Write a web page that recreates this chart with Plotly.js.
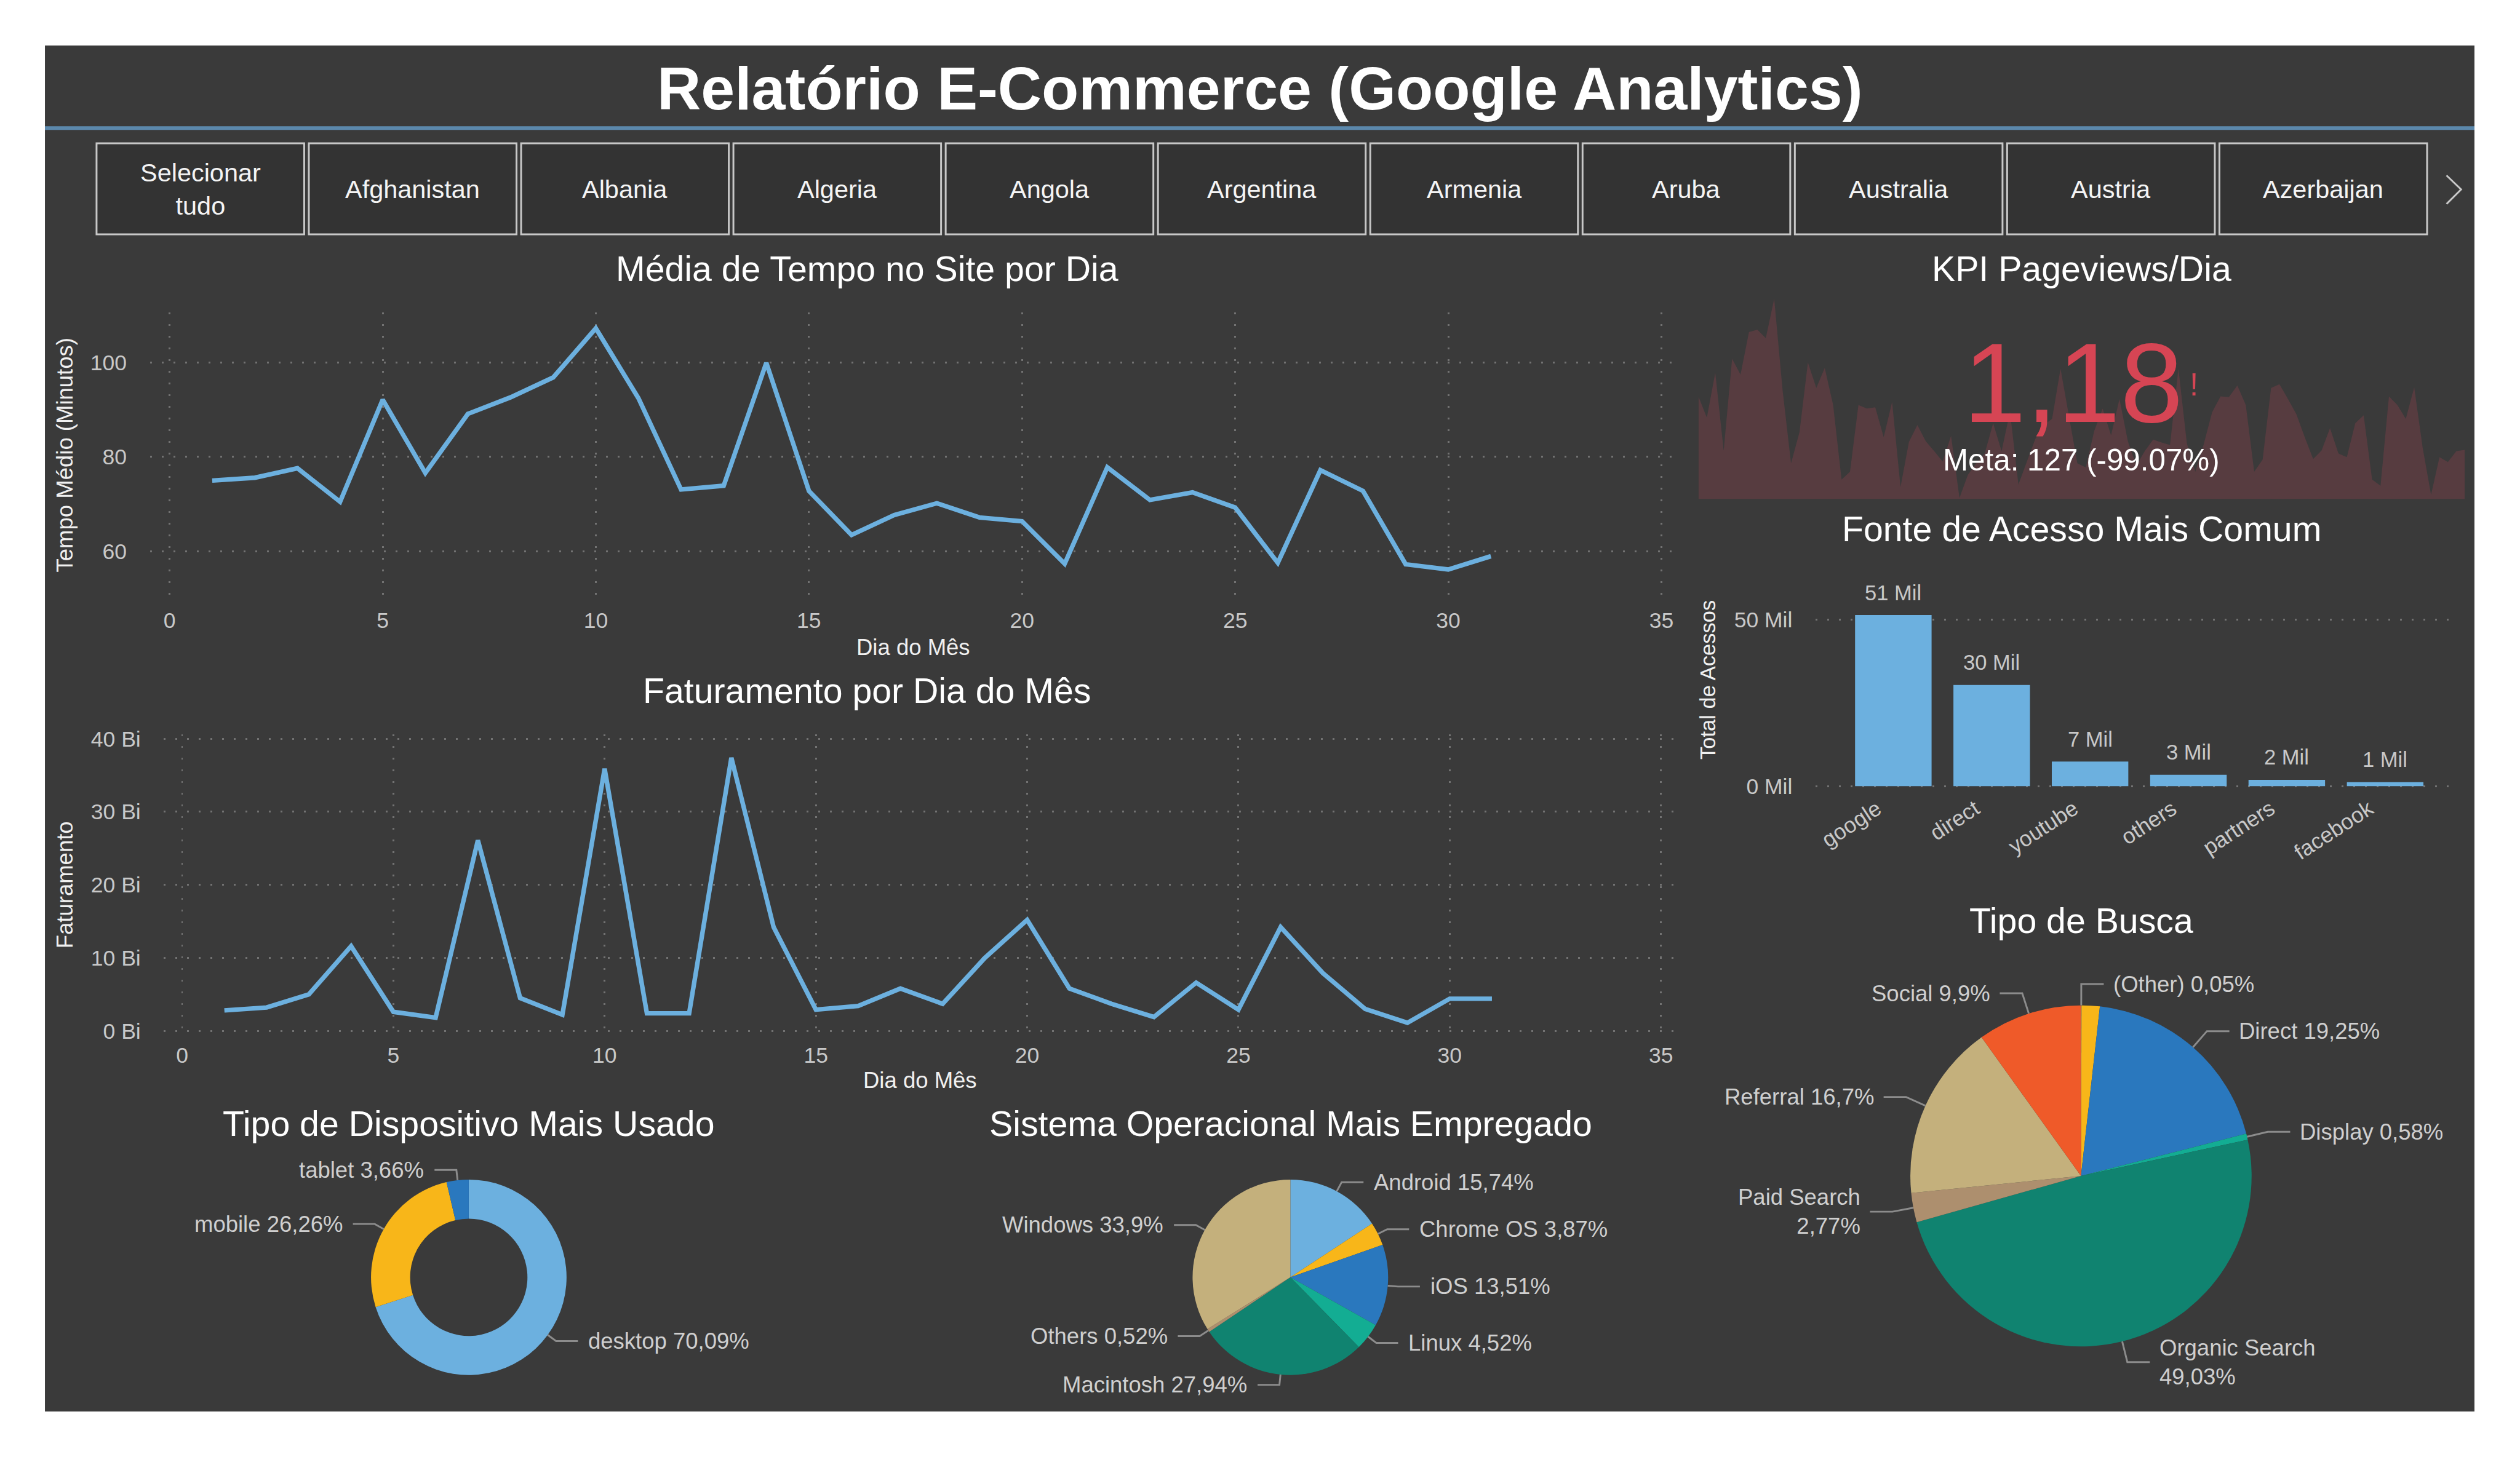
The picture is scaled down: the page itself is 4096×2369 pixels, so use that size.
<!DOCTYPE html>
<html><head><meta charset="utf-8">
<script src="https://cdn.plot.ly/plotly-3.0.1.min.js"></script>
<style>html,body{margin:0;padding:0;background:#fff;overflow:hidden}#chart{width:4096px;height:2369px}</style>
</head><body><div id="chart"></div>
<script>
// ---------------- DATA ----------------
const countries = ["Selecionar tudo","Afghanistan","Albania","Algeria","Angola","Argentina","Armenia","Aruba","Australia","Austria","Azerbaijan"];
const days = [1,2,3,4,5,6,7,8,9,10,11,12,13,14,15,16,17,18,19,20,21,22,23,24,25,26,27,28,29,30,31];
const avgTimeMinutes = [75.0,75.6,77.6,70.5,92.1,76.6,89.1,92.6,96.8,107.2,92.4,73.1,73.9,99.9,72.8,63.5,67.7,70.2,67.2,66.4,57.4,77.8,70.9,72.5,69.3,57.6,77.2,72.8,57.3,56.2,59.0];
const revenueBi = [2.8,3.2,5.0,11.6,2.6,1.8,26.1,4.5,2.2,35.9,2.4,2.4,37.4,14.2,2.9,3.4,5.8,3.7,10.0,15.2,5.8,3.7,1.9,6.6,2.9,14.2,7.9,3.0,1.1,4.4,4.4];
const pageviewsTrend = [169,134,208,80,231,205,275,279,265,330,179,59,110,225,183,216,155,32,45,155,149,151,102,160,20,94,122,95,79,62,104,2,40,59,75,125,79,144,24,62,99,122,132,215,135,59,52,112,149,105,165,95,55,79,98,93,89,215,92,45,90,143,169,168,187,155,45,65,183,189,165,140,102,66,80,117,75,69,125,138,32,22,169,155,132,184,85,7,69,61,79,81];
const kpiValue = 1.18;
const kpiGoal = 127;
const sourceNames = ["google","direct","youtube","others","partners","facebook"];
const sourceAccessMil = [51.4,30.4,7.4,3.4,1.9,1.2];
const sourceTickVals = [0,50];
const deviceNames = ["desktop","mobile","tablet"];
const deviceShares = [70.09,26.26,3.66];
const osNames = ["Android","Chrome OS","iOS","Linux","Macintosh","Others","Windows"];
const osShares = [15.74,3.87,13.51,4.52,27.94,0.52,33.9];
const searchNames = ["(Other)","Affiliates","Direct","Display","Organic Search","Paid Search","Referral","Social"];
const searchShares = [0.05,1.72,19.25,0.58,49.03,2.77,16.7,9.9];
const searchHidden = ["Affiliates"];

// ---------------- STYLE / GEOMETRY ----------------
const W = 4150, H = 2400, S = 4096/4150;
const px = X => X / W, py = Y => 1 - Y / H;
const FONT = 'Liberation Sans, Arial, sans-serif';
const BLUE = '#6cb0df';
const TICK = '#c8c8c8', WHITE = '#ffffff', LBL = '#cfcfcf';
const CLEAR = 'rgba(0,0,0,0)';
const palDevice = ['#6cb0df','#f8b619','#2a78be'];
const palOS = ['#6cb0df','#f8b619','#2a78be','#13ad93','#108370','#ad8f6e','#c4b07c'];
const palSearch = ['#6cb0df','#f8b619','#2a78be','#13ad93','#108370','#ad8f6e','#c4b07c','#ef5a29'];

const G = {
  c1: {x0:247, x1:2762, y0:515, y1:984},
  c2: {x0:270, x1:2761, y0:1210, y1:1705},
  bar: {x0:2990, x1:4047, y0:960, y1:1298},
  spark: {x0:2797, x1:4059, y0:470, y1:822},
  device: {cx:772, cy:2104, r:161},
  os: {cx:2125, cy:2104, r:161},
  search: {cx:3427, cy:1937, r:281}
};
const dom = g => ({x:[px(g.x0), px(g.x1)], y:[py(g.y1), py(g.y0)]});

const annotations = [], shapes = [];
function txt(x, y, text, size, color, extra) {
  annotations.push(Object.assign({xref:'paper', yref:'paper', x:px(x), y:py(y), text:text, showarrow:false,
    xanchor:'center', yanchor:'middle', font:{family:FONT, size:size*S, color:color}}, extra || {}));
}

// panel, header line, buttons
shapes.push({type:'rect', xref:'paper', yref:'paper', x0:px(74), x1:px(4075), y0:py(2325), y1:py(75), fillcolor:'#3a3a3a', line:{width:0}, layer:'below'});
shapes.push({type:'rect', xref:'paper', yref:'paper', x0:px(74), x1:px(4075), y0:py(214), y1:py(208), fillcolor:'#5b88ac', line:{width:0}, layer:'below'});
countries.forEach((c, i) => {
  const x0 = 159 + i * 349.6;
  shapes.push({type:'rect', xref:'paper', yref:'paper', x0:px(x0), x1:px(x0 + 342), y0:py(386), y1:py(236), fillcolor:'#333333', line:{color:'#c8c8c8', width:3*S}, layer:'below'});
  txt(x0 + 171, 312, c.indexOf(' ') > 0 ? c.replace(' ', '<br>') : c, 42, '#f4f4f4');
});
shapes.push({type:'path', xref:'paper', yref:'paper', path:`M${px(4029)},${py(289)}L${px(4053)},${py(312)}L${px(4029)},${py(336)}`, line:{color:'#c8c8c8', width:3*S}});

// titles
txt(2075, 146, '<b>Relatório E-Commerce (Google Analytics)</b>', 100, WHITE);
txt(1428, 443, 'Média de Tempo no Site por Dia', 58, WHITE);
txt(1428, 1138, 'Faturamento por Dia do Mês', 58, WHITE);
txt(3428, 443, 'KPI Pageviews/Dia', 58, WHITE);
txt(3428, 871, 'Fonte de Acesso Mais Comum', 58, WHITE);
txt(3428, 1517, 'Tipo de Busca', 58, WHITE);
txt(772, 1851, 'Tipo de Dispositivo Mais Usado', 58, WHITE);
txt(2126, 1851, 'Sistema Operacional Mais Empregado', 58, WHITE);

// axis titles
txt(107, (G.c1.y0 + G.c1.y1) / 2, 'Tempo Médio (Minutos)', 37, '#f0f0f0', {textangle:-90});
txt(107, (G.c2.y0 + G.c2.y1) / 2, 'Faturamento', 37, '#f0f0f0', {textangle:-90});
txt(2812, 1120, 'Total de Acessos', 35, '#f0f0f0', {textangle:-90});
txt((G.c1.x0 + G.c1.x1) / 2, 1066, 'Dia do Mês', 37, '#f0f0f0');
txt((G.c2.x0 + G.c2.x1) / 2, 1779, 'Dia do Mês', 37, '#f0f0f0');

// KPI
const fmtBR = v => Number(v.toFixed(2)).toString().replace('.', ',');
txt(3414, 631, fmtBR(kpiValue), 186, '#d64554');
txt(3604, 634, '!', 52, '#d64554', {xanchor:'left'});
txt(3428, 757, `Meta: ${kpiGoal} (${((kpiValue - kpiGoal) / kpiGoal * 100).toFixed(2)}%)`, 50, WHITE);

// bar value labels and angled category labels (placed on the category axis)
sourceNames.forEach((n, i) => {
  annotations.push({xref:'x3', yref:'y3', x:n, y:sourceAccessMil[i], text:Math.round(sourceAccessMil[i]) + ' Mil',
    showarrow:false, yshift:37*S, yanchor:'middle', font:{family:FONT, size:35*S, color:TICK}});
  annotations.push({xref:'x3', yref:'paper', x:n, y:py(1308), text:n, textangle:-33, xanchor:'right', yanchor:'top',
    xshift:-10*S, showarrow:false, font:{family:FONT, size:36*S, color:TICK}});
});

// pie labels with elbow leaders
function pieLabels(names, shares, g, d, h, gap, wrap, hidden) {
  const total = shares.reduce((a, b) => a + b, 0);
  let cum = 0;
  names.forEach((n, i) => {
    const mid = (cum + shares[i] / 2) / total * 2 * Math.PI;
    cum += shares[i];
    if (hidden && hidden.indexOf(n) >= 0) return;
    const sx = Math.sin(mid), sy = -Math.cos(mid);
    const p0 = [g.cx + g.r * sx, g.cy + g.r * sy];
    const p1 = [g.cx + (g.r + d) * sx, g.cy + (g.r + d) * sy];
    const dir = sx >= 0 ? 1 : -1;
    const p2 = [p1[0] + dir * h, p1[1]];
    shapes.push({type:'path', xref:'paper', yref:'paper',
      path:`M${px(p0[0])},${py(p0[1])}L${px(p1[0])},${py(p1[1])}L${px(p2[0])},${py(p2[1])}`,
      line:{color:'#8c8c8c', width:3*S}});
    const label = n + ((wrap && n.indexOf(' ') > 0) ? '<br>' : ' ') + fmtBR(shares[i]) + '%';
    txt(p2[0] + dir * gap, p2[1], label, 37, LBL, {xanchor: dir > 0 ? 'left' : 'right', align: dir > 0 ? 'left' : 'right'});
  });
}
pieLabels(deviceNames, deviceShares, G.device, 17, 36, 15, false);
pieLabels(osNames, osShares, G.os, 17, 36, 15, false);
pieLabels(searchNames, searchShares, G.search, 35, 37, 14, true, searchHidden);

const pieDom = g => ({x:[px(g.cx - g.r), px(g.cx + g.r)], y:[py(g.cy + g.r), py(g.cy - g.r)]});

// ---------------- TRACES ----------------
const traces = [
  {type:'scatter', mode:'lines', x:days, y:avgTimeMinutes, xaxis:'x', yaxis:'y', line:{color:BLUE, width:7.5*S}, hoverinfo:'skip'},
  {type:'scatter', mode:'lines', x:days, y:revenueBi, xaxis:'x2', yaxis:'y2', line:{color:BLUE, width:7.5*S}, hoverinfo:'skip'},
  {type:'bar', x:sourceNames, y:sourceAccessMil, xaxis:'x3', yaxis:'y3', marker:{color:BLUE, line:{width:0}}, hoverinfo:'skip'},
  {type:'scatter', mode:'lines', x:pageviewsTrend.map((_, i) => i), y:pageviewsTrend, xaxis:'x4', yaxis:'y4', fill:'tozeroy', fillcolor:'#573c40', line:{width:0, color:'#573c40'}, hoverinfo:'skip'},
  {type:'pie', labels:deviceNames, values:deviceShares, hole:0.6, sort:false, direction:'clockwise', rotation:0, textinfo:'none', domain:pieDom(G.device), marker:{colors:palDevice, line:{width:0}}, hoverinfo:'skip'},
  {type:'pie', labels:osNames, values:osShares, sort:false, direction:'clockwise', rotation:0, textinfo:'none', domain:pieDom(G.os), marker:{colors:palOS, line:{width:0}}, hoverinfo:'skip'},
  {type:'pie', labels:searchNames, values:searchShares, sort:false, direction:'clockwise', rotation:0, textinfo:'none', domain:pieDom(G.search), marker:{colors:palSearch, line:{width:0}}, hoverinfo:'skip'}
];

const grid = {showgrid:true, gridcolor:'#727272', gridwidth:3*S, griddash:'3px,16px', zeroline:false, showline:false,
  ticks:'outside', tickcolor:CLEAR, tickwidth:1,
  tickfont:{family:FONT, size:36*S, color:TICK}, fixedrange:true};

const layout = {
  width:4096, height:2369, margin:{l:0, r:0, t:0, b:0}, paper_bgcolor:'#ffffff', plot_bgcolor:CLEAR,
  showlegend:false, hovermode:false, font:{family:FONT},
  xaxis: Object.assign({}, grid, {domain:dom(G.c1).x, range:[-0.46, 35.37], anchor:'y', tick0:0, dtick:5, ticklen:6*S}),
  yaxis: Object.assign({}, grid, {domain:dom(G.c1).y, range:[50.3, 110.5], anchor:'x', tick0:0, dtick:20, ticklen:30*S}),
  xaxis2: Object.assign({}, grid, {domain:dom(G.c2).x, range:[-0.43, 35.37], anchor:'y2', tick0:0, dtick:5, ticklen:1}),
  yaxis2: Object.assign({}, grid, {domain:dom(G.c2).y, range:[-0.58, 40.58], anchor:'x2', tick0:0, dtick:10, ticksuffix:' Bi', ticklen:30*S}),
  xaxis3: Object.assign({}, grid, {domain:dom(G.bar).x, type:'category', range:[-0.79, 5.735], anchor:'y3', showgrid:false, showticklabels:false, ticks:''}),
  yaxis3: Object.assign({}, grid, {domain:dom(G.bar).y, range:[-0.55, 61.1], anchor:'x3', tickmode:'array', tickvals:sourceTickVals, ticktext:sourceTickVals.map(v => v + ' Mil'), ticklen:30*S}),
  xaxis4: {domain:dom(G.spark).x, range:[0, pageviewsTrend.length - 1], anchor:'y4', visible:false, fixedrange:true},
  yaxis4: {domain:dom(G.spark).y, range:[0, 352], anchor:'x4', visible:false, fixedrange:true},
  bargap:0.222,
  shapes:shapes, annotations:annotations
};

Plotly.newPlot('chart', traces, layout, {staticPlot:true, displayModeBar:false});
</script>
</body></html>
